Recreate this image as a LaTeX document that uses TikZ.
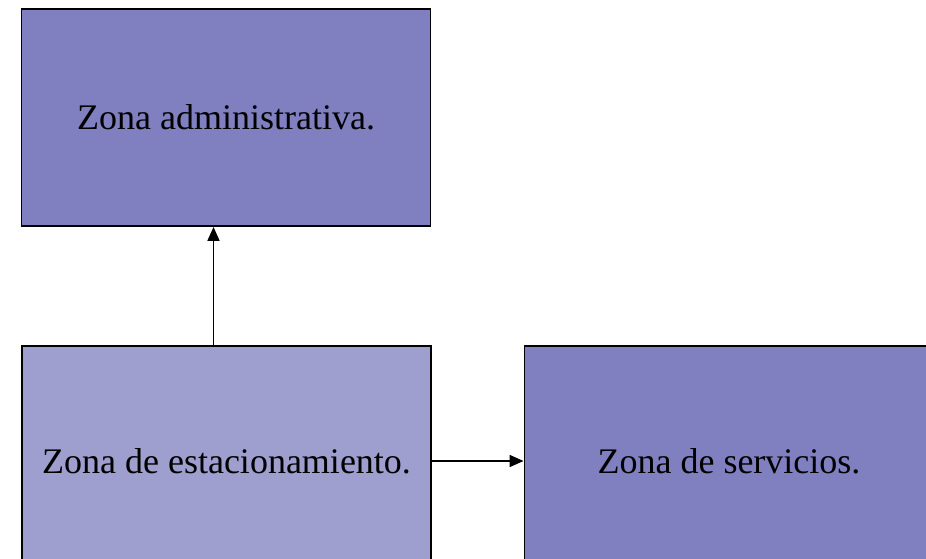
\documentclass[tikz,border=0pt]{standalone}
\usepackage{fontspec}
\setmainfont{Liberation Serif}
\usetikzlibrary{arrows.meta}
\definecolor{zonedark}{RGB}{128,128,192}
\definecolor{zonelight}{RGB}{159,159,207}

\begin{document}
\begin{tikzpicture}[x=0.75pt,y=-0.75pt,
    zone/.style={draw=black, line width=1.4pt, inner sep=0pt,
      font=\fontsize{27}{31}\selectfont},
    link/.style={line width=1.3pt, -{Triangle[length=10.5pt,width=9pt]}}]
    \useasboundingbox (0,0) rectangle (926,558);
    \clip (0,0) rectangle (926,558);

    \node[zone, fill=zonedark, minimum width=306.75pt, minimum height=162.75pt]
      (admin) at (226,117.5) {Zona administrativa.};
    \node[zone, fill=zonelight, minimum width=306.75pt, minimum height=172.5pt]
      (parking) at (226.5,461) {Zona de estacionamiento.};
    \node[zone, fill=zonedark, minimum width=306.75pt, minimum height=172.5pt]
      (services) at (729,461) {Zona de servicios.};

    \coordinate (up) at ([xshift=-9.75pt]parking.north);

    \draw[link] (up) -- (up |- admin.south);
    \draw[link] (parking.east) -- (services.west);
\end{tikzpicture}
\end{document}
